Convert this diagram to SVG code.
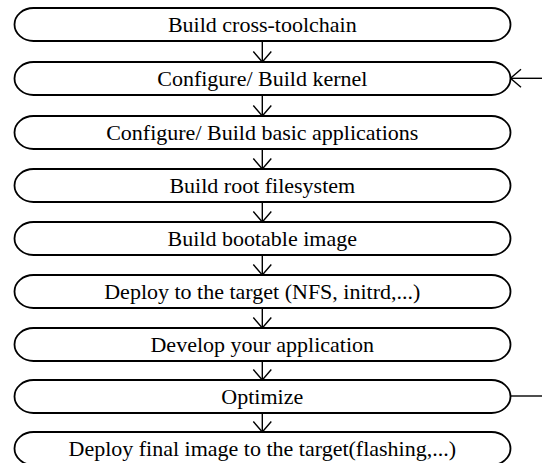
<svg xmlns="http://www.w3.org/2000/svg" width="542" height="463" viewBox="0 0 542 463">
<style>
.box{fill:#fff;stroke:#000;stroke-width:1.8}
.lbl{font-family:"Liberation Serif","Times New Roman",serif;font-size:22px;fill:#000;text-anchor:middle}
.ln{stroke:#000;stroke-width:1.4;fill:none}
</style>
<defs>
<marker id="ah" markerUnits="userSpaceOnUse" viewBox="-11 -10 12 20" markerWidth="12" markerHeight="20" refX="0" refY="0" orient="auto">
<path d="M-10.5,-9 L0,0 L-10.5,9" fill="none" stroke="#000" stroke-width="1.4"/>
</marker>
</defs>
<rect width="542" height="463" fill="#fff"/>
<g id="connectors">
<line class="ln" x1="262.3" y1="41" x2="262.3" y2="62" marker-end="url(#ah)"/>
<line class="ln" x1="262.3" y1="95" x2="262.3" y2="116" marker-end="url(#ah)"/>
<line class="ln" x1="262.3" y1="149" x2="262.3" y2="169" marker-end="url(#ah)"/>
<line class="ln" x1="262.3" y1="202" x2="262.3" y2="222" marker-end="url(#ah)"/>
<line class="ln" x1="262.3" y1="255" x2="262.3" y2="275" marker-end="url(#ah)"/>
<line class="ln" x1="262.3" y1="308" x2="262.3" y2="328" marker-end="url(#ah)"/>
<line class="ln" x1="262.3" y1="361" x2="262.3" y2="380" marker-end="url(#ah)"/>
<line class="ln" x1="262.3" y1="413" x2="262.3" y2="432" marker-end="url(#ah)"/>
<line class="ln" x1="542" y1="78.3" x2="510.5" y2="78.3" marker-end="url(#ah)"/>
<line class="ln" x1="510.5" y1="396" x2="542" y2="396"/>
</g>
<g id="n1"><rect class="box" x="14.5" y="8" width="496" height="33" rx="19" ry="16.5"/><text class="lbl" x="262.3" y="31.8">Build cross-toolchain</text></g>
<g id="n2"><rect class="box" x="14.5" y="62" width="496" height="33" rx="19" ry="16.5"/><text class="lbl" x="262.3" y="85.8">Configure/ Build kernel</text></g>
<g id="n3"><rect class="box" x="14.5" y="116" width="496" height="33" rx="19" ry="16.5"/><text class="lbl" x="262.3" y="139.8">Configure/ Build basic applications</text></g>
<g id="n4"><rect class="box" x="14.5" y="169" width="496" height="33" rx="19" ry="16.5"/><text class="lbl" x="262.3" y="192.8">Build root filesystem</text></g>
<g id="n5"><rect class="box" x="14.5" y="222" width="496" height="33" rx="19" ry="16.5"/><text class="lbl" x="262.3" y="245.8">Build bootable image</text></g>
<g id="n6"><rect class="box" x="14.5" y="275" width="496" height="33" rx="19" ry="16.5"/><text class="lbl" x="262.3" y="298.8">Deploy to the target (NFS, initrd,...)</text></g>
<g id="n7"><rect class="box" x="14.5" y="328" width="496" height="33" rx="19" ry="16.5"/><text class="lbl" x="262.3" y="351.8">Develop your application</text></g>
<g id="n8"><rect class="box" x="14.5" y="380" width="496" height="33" rx="19" ry="16.5"/><text class="lbl" x="262.3" y="403.8">Optimize</text></g>
<g id="n9"><rect class="box" x="14.5" y="432" width="496" height="33" rx="19" ry="16.5"/><text class="lbl" x="262.3" y="455.5">Deploy final image to the target(flashing,...)</text></g>
</svg>
